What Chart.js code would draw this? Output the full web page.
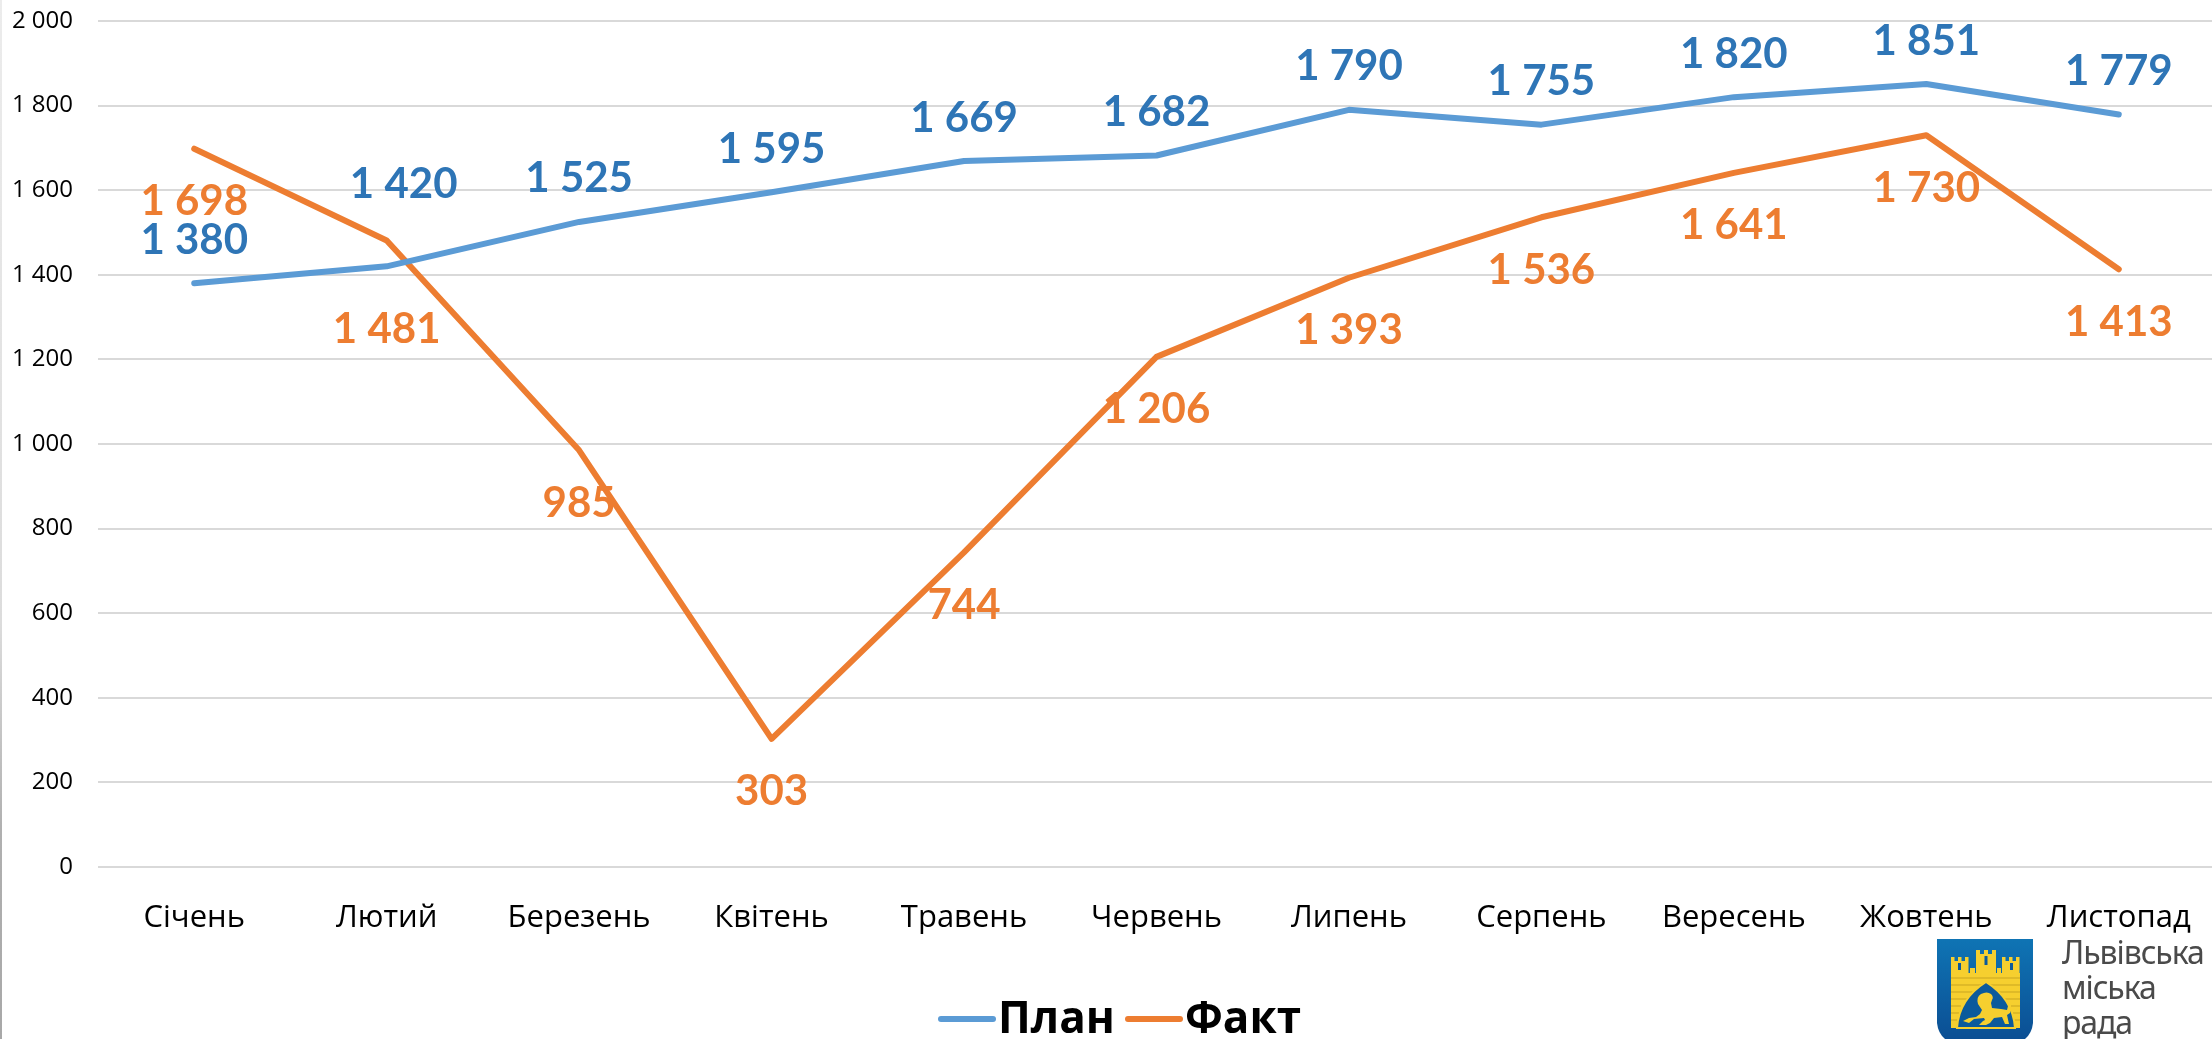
<!DOCTYPE html>
<html lang="uk"><head><meta charset="utf-8">
<script src="https://cdn.jsdelivr.net/npm/chart.js@4/dist/chart.umd.js"></script>
<style>
html,body{margin:0;padding:0;background:#fff;width:2212px;height:1039px;overflow:hidden}
#wrap{position:relative;width:2212px;height:1039px;overflow:hidden}
canvas{position:absolute;left:0;top:0}
#edge{position:absolute;left:0;top:0;width:2px;height:1039px;background:linear-gradient(#ececec 0%,#dcdcdc 60%,#b0b0b0 80%,#a8a8a8 100%)}
#logo{position:absolute;left:1937px;top:939px}
#council{position:absolute;left:2062px;top:934px;font:400 32px/35px "Noto Sans",sans-serif;color:#4a4a4a;letter-spacing:-1.1px}
</style></head><body>
<div id="wrap">
<canvas id="c" width="2216" height="1039"></canvas>
<div id="edge"></div>
<svg id="logo" width="96" height="100" viewBox="0 0 96 100">
<defs><linearGradient id="g" x1="0" y1="0" x2="0" y2="1"><stop offset="0" stop-color="#0f74b4"/><stop offset="1" stop-color="#0b4f94"/></linearGradient></defs>
<path d="M0 0H96V84Q95 94 88 100H8Q1 94 0 84Z" fill="url(#g)"/>
<g fill="#F6CF2F">
<path d="M14 18h3.5v4h3.5v-4h3.5v4h3.5v-4h3.5v16h-17.500z"/>
<path d="M39 11h4v4h4v-4h4v4h4v-4h4v23h-20z"/>
<path d="M65 18h3.500v4h3.500v-4h3.500v4h3.500v-4h3.500v16h-17.500z"/>
<rect x="14" y="34" width="69" height="55"/>
<rect x="33" y="29" width="5" height="5"/><rect x="60" y="29" width="4" height="5"/>
</g>
<g fill="#0B5A9C"><rect x="21" y="24" width="3" height="7"/><rect x="47.500" y="17" width="3" height="9"/><rect x="73" y="24" width="3" height="7"/></g>
<g stroke="#C9A520" stroke-width="1" fill="none"><path d="M14 39H83M14 46H83M14 53H40M58 53H83M14 60H30M68 60H83M14 67H24M74 67H83M14 74H22M76 74H83M14 81H21M77 81H83"/></g>
<path d="M20 89Q22 60 49 43Q76 60 78 89Z" fill="#0B5A9C" stroke="#F6CF2F" stroke-width="2"/>
<path fill="#F6CF2F" d="M26 82l6-3 7-1 4-3 2-4-4-6q-2-7 3-10 6-3 10 0 3 3 1 6l-1 3 1 5 9 1 6 1 2-8 2 1-1 10-3 2 2 9h-4l-3-7-8 1-4 5-4 2h-7l4-4 2-1-1-2-10 1-5 4z"/>
</svg>
<div id="council">Львівська<br>міська<br>рада</div>
</div>
<script>
const months = ["Січень","Лютий","Березень","Квітень","Травень","Червень","Липень","Серпень","Вересень","Жовтень","Листопад"];
const planValues = [1380,1420,1525,1595,1669,1682,1790,1755,1820,1851,1779];
const factValues = [1698,1481,985,303,744,1206,1393,1536,1641,1730,1413];
const planName = "План";
const factName = "Факт";

const spaced = v => String(v).replace(/\B(?=(\d{3})+$)/g, " ");

const pointLabels = {
  id: "pointLabels",
  afterDatasetsDraw(chart) {
    const ctx = chart.ctx;
    ctx.save();
    ctx.font = 'bold 42px Lato, "Open Sans", sans-serif';
    ctx.textAlign = "center";
    ctx.textBaseline = "middle";
    chart.data.datasets.forEach((ds, di) => {
      ctx.fillStyle = ds.labelColor;
      chart.getDatasetMeta(di).data.forEach((pt, i) => {
        const nudge = (ds.labelNudge && ds.labelNudge[i]) || { x: 0, y: 0 };
        ctx.fillText(spaced(ds.data[i]), pt.x + nudge.x, pt.y + ds.labelOffset + nudge.y);
      });
    });
    ctx.restore();
  }
};

const lineLegend = {
  id: "lineLegend",
  afterDraw(chart) {
    const ctx = chart.ctx;
    const starts = [938, 1125];
    ctx.save();
    ctx.font = 'bold 44px "Open Sans", sans-serif';
    ctx.textBaseline = "alphabetic";
    ctx.lineCap = "round";
    chart.data.datasets.forEach((ds, i) => {
      ctx.strokeStyle = ds.borderColor;
      ctx.lineWidth = 6;
      ctx.beginPath();
      ctx.moveTo(starts[i] + 3, 1019);
      ctx.lineTo(starts[i] + 55, 1019);
      ctx.stroke();
      ctx.fillStyle = "#000";
      ctx.fillText(ds.label, starts[i] + 60, 1033);
    });
    ctx.restore();
  }
};

new Chart(document.getElementById("c"), {
  type: "line",
  data: {
    labels: months,
    datasets: [
      { label: planName, data: planValues, borderColor: "#5B9BD5", backgroundColor: "#5B9BD5",
        borderWidth: 6, labelColor: "#2E75B6", labelOffset: -43, labelNudge: {1: {x: 17, y: -39}} },
      { label: factName, data: factValues, borderColor: "#ED7D31", backgroundColor: "#ED7D31",
        borderWidth: 6, labelColor: "#ED7D31", labelOffset: 53, labelNudge: {1: {x: 0, y: 36}} }
    ]
  },
  options: {
    responsive: false,
    animation: false,
    layout: { padding: { top: 21, right: 1, left: 0, bottom: 0 } },
    elements: {
      point: { radius: 0 },
      line: { tension: 0, borderCapStyle: "round", borderJoinStyle: "round" }
    },
    plugins: { legend: { display: false }, title: { display: false }, tooltip: { enabled: false } },
    scales: {
      x: {
        offset: true,
        grid: { display: false },
        border: { display: false },
        afterFit(s) { s.height = 172; },
        ticks: { color: "#000", padding: 25, maxRotation: 0, autoSkip: false,
                 font: { family: '"Open Sans", sans-serif', size: 31 } }
      },
      y: {
        min: 0, max: 2000,
        grid: { color: "#D9D9D9", lineWidth: 2, drawTicks: false },
        border: { display: false },
        afterFit(s) { s.width = 98; s.paddingTop = 0; s.paddingBottom = 0; },
        ticks: { stepSize: 200, color: "#000", padding: 25, callback: v => spaced(v),
                 font: { family: '"Open Sans", sans-serif', size: 24 } }
      }
    }
  },
  plugins: [pointLabels, lineLegend]
});
</script>
</body></html>
